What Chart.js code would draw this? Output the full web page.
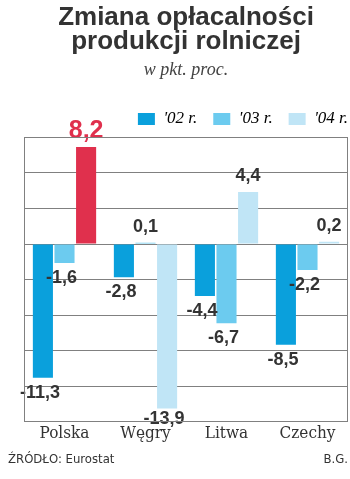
<!DOCTYPE html>
<html>
<head>
<meta charset="utf-8">
<script src="https://cdn.jsdelivr.net/npm/chart.js@4"></script>
<style>
body { margin: 0; background: #fff; }
#wrap { position: relative; width: 350px; height: 479px; }
.foot { position: absolute; top: 451px; font: 13px 'DejaVu Sans Condensed', 'DejaVu Sans', sans-serif; color: #333; }
#source { left: 8px; }
#author { right: 2px; }
</style>
</head>
<body>
<div id="wrap">
    <canvas id="chart" width="350" height="479"></canvas>
    <div class="foot" id="source">ŹRÓDŁO: Eurostat</div>
    <div class="foot" id="author">B.G.</div>
</div>
<script>
// dane z wykresu
const countries = ['Polska', 'Węgry', 'Litwa', 'Czechy'];
const seriesNames = ["'02 r.", "'03 r.", "'04 r."];
const values02 = [-11.3, -2.8, -4.4, -8.5];
const values03 = [-1.6, 0.1, -6.7, -2.2];
const values04 = [8.2, -13.9, 4.4, 0.2];
const yTicks = [-15, -12, -9, -6, -3, 0, 3, 6, 9];

const seriesColors = ['#0aa0dc', '#6ccbef', '#c0e5f6'];
const hiColor = '#e0304d';
const gridColor = '#808080';

// wyróżniony słupek: Polska '04
const highlight = { dataset: 2, index: 0 };

function fmt(v) {
    return v.toFixed(1).replace('.', ',');
}

function isHighlight(i, j) {
    return i === highlight.dataset && j === highlight.index;
}

const valueLabels = {
    id: 'valueLabels',
    afterDatasetsDraw(chart) {
        let ctx = chart.ctx;
        let bottom = chart.chartArea.bottom;
        ctx.save();
        ctx.textAlign = 'center';
        ctx.textBaseline = 'middle';
        chart.data.datasets.forEach(function (ds, i) {
            chart.getDatasetMeta(i).data.forEach(function (bar, j) {
                let v = ds.data[j];
                let x = bar.x;
                let y;
                if (v >= 0) {
                    y = bar.y - 16;
                } else {
                    y = Math.min(bar.y + 15, bottom - 3);
                    x -= 3;
                }
                if (isHighlight(i, j)) {
                    ctx.font = 'bold 25px "Liberation Sans", Arial, sans-serif';
                    ctx.fillStyle = hiColor;
                } else {
                    ctx.font = 'bold 18px "Liberation Sans", Arial, sans-serif';
                    ctx.fillStyle = '#333';
                }
                ctx.fillText(fmt(v), x, y);
            });
        });
        ctx.restore();
    }
};

const frame = {
    id: 'frame',
    afterDatasetsDraw(chart) {
        let a = chart.chartArea;
        let ctx = chart.ctx;
        ctx.save();
        ctx.strokeStyle = gridColor;
        ctx.lineWidth = 1;
        ctx.strokeRect(Math.round(a.left) + 0.5, Math.round(a.top) + 0.5,
            Math.round(a.right - a.left) - 1, Math.round(a.bottom - a.top));
        ctx.restore();
    }
};

// legenda ma dosunąć się do prawej krawędzi ramki
const legendShift = {
    id: 'legendShift',
    afterLayout(chart) {
        let p = chart.legend.options.labels.padding;
        chart.legend.left += p;
        chart.legend.right += p;
    }
};

function barColors(i, n) {
    let c = [];
    for (let j = 0; j < n; j++) {
        c.push(isHighlight(i, j) ? hiColor : seriesColors[i]);
    }
    return c;
}

let ctx = document.getElementById('chart').getContext('2d');
let myChart = new Chart(ctx, {
    type: 'bar',
    data: {
        labels: countries,
        datasets: [values02, values03, values04].map(function (vals, i) {
            return {
                label: seriesNames[i],
                data: vals,
                backgroundColor: barColors(i, vals.length),
                categoryPercentage: 0.8,
                barPercentage: 0.93
            };
        })
    },
    options: {
        responsive: false,
        animation: false,
        layout: { padding: { left: 24, right: 2, top: 0, bottom: 33 } },
        plugins: {
            title: {
                display: true,
                text: ['Zmiana opłacalności', 'produkcji rolniczej'],
                color: '#333',
                font: { family: '"Liberation Sans", Arial, sans-serif', size: 26, weight: 'bold', lineHeight: 0.92 },
                padding: { top: 6, bottom: 6 }
            },
            subtitle: {
                display: true,
                text: 'w pkt. proc.',
                color: '#444',
                font: { family: '"Liberation Serif", serif', size: 18, style: 'italic' },
                padding: { top: 0, bottom: 13 }
            },
            legend: {
                position: 'top',
                align: 'end',
                labels: {
                    boxWidth: 17,
                    boxHeight: 12,
                    padding: 16,
                    color: '#333',
                    font: { family: '"Liberation Serif", serif', size: 17, style: 'italic' },
                    generateLabels: function (chart) {
                        return seriesNames.map(function (name, i) {
                            return {
                                text: name,
                                fillStyle: seriesColors[i],
                                strokeStyle: seriesColors[i],
                                lineWidth: 0,
                                datasetIndex: i
                            };
                        });
                    }
                }
            },
            tooltip: { enabled: false }
        },
        scales: {
            x: {
                grid: { display: false, drawTicks: false },
                border: { display: false },
                ticks: {
                    color: '#333',
                    padding: 2,
                    font: { family: '"DejaVu Serif Condensed", "DejaVu Serif", serif', size: 17 }
                }
            },
            y: {
                min: yTicks[0],
                max: yTicks[yTicks.length - 1],
                afterBuildTicks: function (axis) {
                    axis.ticks = yTicks.map(function (v) { return { value: v }; });
                },
                afterFit: function (axis) { axis.width = 0; },
                ticks: { display: false },
                grid: { color: gridColor, lineWidth: 1, drawTicks: false },
                border: { display: false }
            }
        }
    },
    plugins: [valueLabels, frame, legendShift]
});
</script>
</body>
</html>
